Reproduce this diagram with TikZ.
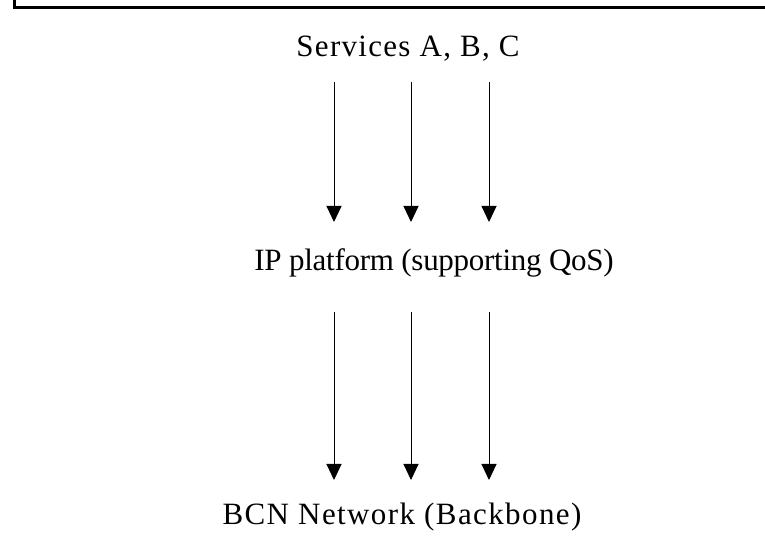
\documentclass[tikz,border=0pt]{standalone}
\usepackage{fontspec}
\setmainfont{Liberation Serif}
\usetikzlibrary{arrows.meta}
\begin{document}
\begin{tikzpicture}[x=1pt,y=1pt,
  lbl/.style={anchor=base,inner sep=0pt,font=\fontsize{31}{36}\selectfont},
  flow/.style={line width=1pt,-{Triangle[width=15pt,length=16pt]}},
  frame/.style={line width=3pt}]
\useasboundingbox (0,0) rectangle (765,548);
\draw[frame] (14.7,548) -- (14.7,540.3) -- (765,540.3);
\node[lbl] (s) at (408,491) {\addfontfeature{LetterSpace=4.2}Services A, B, C};
\node[lbl] (ip) at (434,277) {\addfontfeature{LetterSpace=-0.9}IP platform (supporting QoS)};
\node[lbl] (bcn) at (402,23) {\addfontfeature{LetterSpace=4.5}BCN Network (Backbone)};
\foreach \i/\x in {1/334,2/411,3/489}{
  \coordinate (a\i) at (\x,466);
  \coordinate (b\i) at (\x,326);
  \coordinate (c\i) at (\x,236);
  \coordinate (d\i) at (\x,68);
  \draw[flow] (a\i) -- (b\i);
  \draw[flow] (c\i) -- (d\i);
}
\end{tikzpicture}
\end{document}
